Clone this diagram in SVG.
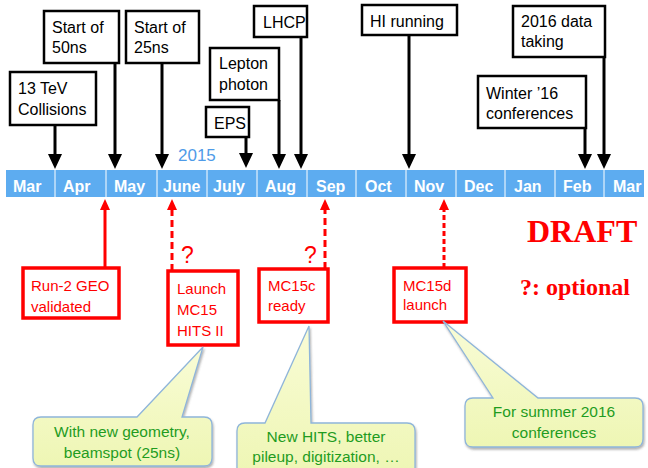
<svg xmlns="http://www.w3.org/2000/svg" width="648" height="468" viewBox="0 0 648 468">
<defs>
<marker id="ah" markerUnits="userSpaceOnUse" markerWidth="15" markerHeight="14" refX="3" refY="7" orient="auto"><path d="M0,0 L15,7 L0,14 Z" fill="#000"/></marker>
<marker id="ahr" markerUnits="userSpaceOnUse" markerWidth="11" markerHeight="10" refX="2" refY="5" orient="auto"><path d="M0,0 L11,5 L0,10 Z" fill="#f00"/></marker>
<linearGradient id="cg" x1="0" y1="0" x2="0" y2="1"><stop offset="0" stop-color="#f9fcd6"/><stop offset="1" stop-color="#eef6b4"/></linearGradient>
<filter id="sh" x="-10%" y="-10%" width="130%" height="130%"><feDropShadow dx="1" dy="2" stdDeviation="1.2" flood-color="#555" flood-opacity="0.45"/></filter>
<style>
.t{font-family:"Liberation Sans",Arial,sans-serif;font-size:16px;fill:#000}
.bb{fill:#fff;stroke:#000;stroke-width:2.5}
.rb{fill:#fff;stroke:#f00;stroke-width:3.5}
.rt{font-family:"Liberation Sans",Arial,sans-serif;font-size:15px;fill:#f00}
.m{font-family:"Liberation Sans",Arial,sans-serif;font-size:16px;font-weight:bold;fill:#fff}
.sep{stroke:#fff;stroke-width:1}
.ba{stroke:#000;stroke-width:3;fill:none;marker-end:url(#ah)}
.ra{stroke:#f00;stroke-width:3;fill:none;marker-end:url(#ahr)}
.co{fill:url(#cg);stroke:#8fb5da;stroke-width:1.3;filter:url(#sh)}
.ct{font-family:"Liberation Sans",Arial,sans-serif;font-size:15.5px;fill:#1f9c1f;text-anchor:middle}
.q{font-family:"Liberation Sans",Arial,sans-serif;font-size:23px;fill:#f00}
</style>
</defs>

<g id="timeline">
<rect x="6" y="170" width="638" height="27" fill="#5dacf0"/>
<g class="sep">
<line x1="55" y1="170" x2="55" y2="197"/><line x1="106" y1="170" x2="106" y2="197"/><line x1="157" y1="170" x2="157" y2="197"/><line x1="207" y1="170" x2="207" y2="197"/><line x1="257" y1="170" x2="257" y2="197"/><line x1="307" y1="170" x2="307" y2="197"/><line x1="356" y1="170" x2="356" y2="197"/><line x1="406" y1="170" x2="406" y2="197"/><line x1="456" y1="170" x2="456" y2="197"/><line x1="505" y1="170" x2="505" y2="197"/><line x1="555" y1="170" x2="555" y2="197"/><line x1="604" y1="170" x2="604" y2="197"/>
</g>
<text class="m" x="13" y="192">Mar</text>
<text class="m" x="63" y="192">Apr</text>
<text class="m" x="114" y="192">May</text>
<text class="m" x="163" y="192">June</text>
<text class="m" x="213" y="192">July</text>
<text class="m" x="265" y="192">Aug</text>
<text class="m" x="316" y="192">Sep</text>
<text class="m" x="365" y="192">Oct</text>
<text class="m" x="414" y="192">Nov</text>
<text class="m" x="464" y="192">Dec</text>
<text class="m" x="514" y="192">Jan</text>
<text class="m" x="563" y="192">Feb</text>
<text class="m" x="613" y="192">Mar</text>
<text x="178" y="161" font-family="Liberation Sans,Arial,sans-serif" font-size="17" fill="#4f9be8">2015</text>
</g>

<g id="connectors">
<line class="ba" x1="55" y1="125" x2="55" y2="157"/>
<line class="ba" x1="115" y1="63" x2="115" y2="157"/>
<line class="ba" x1="162" y1="63" x2="162" y2="157"/>
<line class="ba" x1="246" y1="137" x2="246" y2="156"/>
<line class="ba" x1="279" y1="100" x2="279" y2="157"/>
<line class="ba" x1="301" y1="37" x2="301" y2="157"/>
<line class="ba" x1="409" y1="35" x2="409" y2="157"/>
<line class="ba" x1="585" y1="128" x2="585" y2="157"/>
<line class="ba" x1="604" y1="57" x2="604" y2="157"/>
<line class="ra" x1="105" y1="268" x2="105" y2="208"/>
<line class="ra" x1="172" y1="271" x2="172" y2="208" stroke-dasharray="7 4"/>
<line class="ra" x1="325" y1="269" x2="325" y2="208" stroke-dasharray="7 4"/>
<line class="ra" x1="444" y1="268" x2="444" y2="208" stroke-width="2" stroke-dasharray="5 3"/>
</g>

<g id="n13tev"><rect class="bb" x="10" y="72" width="86" height="53"/><text class="t" x="18" y="94">13 TeV</text><text class="t" x="18" y="115">Collisions</text></g>
<g id="n50ns"><rect class="bb" x="44" y="11" width="75" height="52"/><text class="t" x="52" y="33">Start of</text><text class="t" x="52" y="53">50ns</text></g>
<g id="n25ns"><rect class="bb" x="126" y="11" width="73" height="52"/><text class="t" x="134" y="33">Start of</text><text class="t" x="134" y="53">25ns</text></g>
<g id="nlepton"><rect class="bb" x="210" y="48" width="69" height="52"/><text class="t" x="219" y="69">Lepton</text><text class="t" x="219" y="90">photon</text></g>
<g id="neps"><rect class="bb" x="206" y="107" width="43" height="30"/><text class="t" x="214" y="129">EPS</text></g>
<g id="nlhcp"><rect class="bb" x="254" y="6" width="53" height="31"/><text class="t" x="263" y="28">LHCP</text></g>
<g id="nhi"><rect class="bb" x="362" y="5" width="95" height="30"/><text class="t" x="370" y="27">HI running</text></g>
<g id="n2016"><rect class="bb" x="513" y="6" width="92" height="51"/><text class="t" x="521" y="27">2016 data</text><text class="t" x="521" y="47">taking</text></g>
<g id="nwinter"><rect class="bb" x="478" y="76" width="108" height="52"/><text class="t" x="486" y="99">Winter ’16</text><text class="t" x="486" y="119">conferences</text></g>

<g id="nrun2"><rect class="rb" x="23" y="268" width="96" height="50"/><text class="rt" x="31" y="291">Run-2 GEO</text><text class="rt" x="31" y="312">validated</text></g>
<g id="nlaunch"><rect class="rb" x="168" y="271" width="70" height="74"/><text class="rt" x="177" y="294">Launch</text><text class="rt" x="177" y="315">MC15</text><text class="rt" x="177" y="336">HITS II</text><text class="q" x="181" y="263">?</text></g>
<g id="nmc15c"><rect class="rb" x="259" y="269" width="69" height="53"/><text class="rt" x="268" y="291">MC15c</text><text class="rt" x="268" y="311">ready</text><text class="q" x="304" y="263">?</text></g>
<g id="nmc15d"><rect class="rb" x="394" y="268" width="72" height="54"/><text class="rt" x="403" y="291">MC15d</text><text class="rt" x="403" y="310">launch</text></g>

<g id="draft">
<text x="527" y="242" font-family="Liberation Serif,Times New Roman,serif" font-weight="bold" font-size="32" fill="#f00">DRAFT</text>
<text x="520" y="295" font-family="Liberation Serif,Times New Roman,serif" font-weight="bold" font-size="24" fill="#f00">?: optional</text>
</g>

<g id="callout1"><path class="co" d="M41,417 L137,417 L203,347 L182,417 L204,417 Q212,417 212,425 L212,458 Q212,466 204,466 L41,466 Q33,466 33,458 L33,425 Q33,417 41,417 Z"/><text class="ct" x="122" y="437">With new geometry,</text><text class="ct" x="122" y="458">beamspot (25ns)</text></g>
<g id="callout2"><path class="co" d="M245,423 L265,423 L309,326 L311,423 L407,423 Q415,423 415,431 L415,476 L237,476 L237,431 Q237,423 245,423 Z"/><text class="ct" x="326" y="442">New HITS, better</text><text class="ct" x="326" y="462">pileup, digitization, …</text></g>
<g id="callout3"><path class="co" d="M473,398 L493,398 L443,321 L538,398 L635,398 Q643,398 643,406 L643,439 Q643,447 635,447 L473,447 Q465,447 465,439 L465,406 Q465,398 473,398 Z"/><text class="ct" x="554" y="417">For summer 2016</text><text class="ct" x="554" y="438">conferences</text></g>
</svg>
